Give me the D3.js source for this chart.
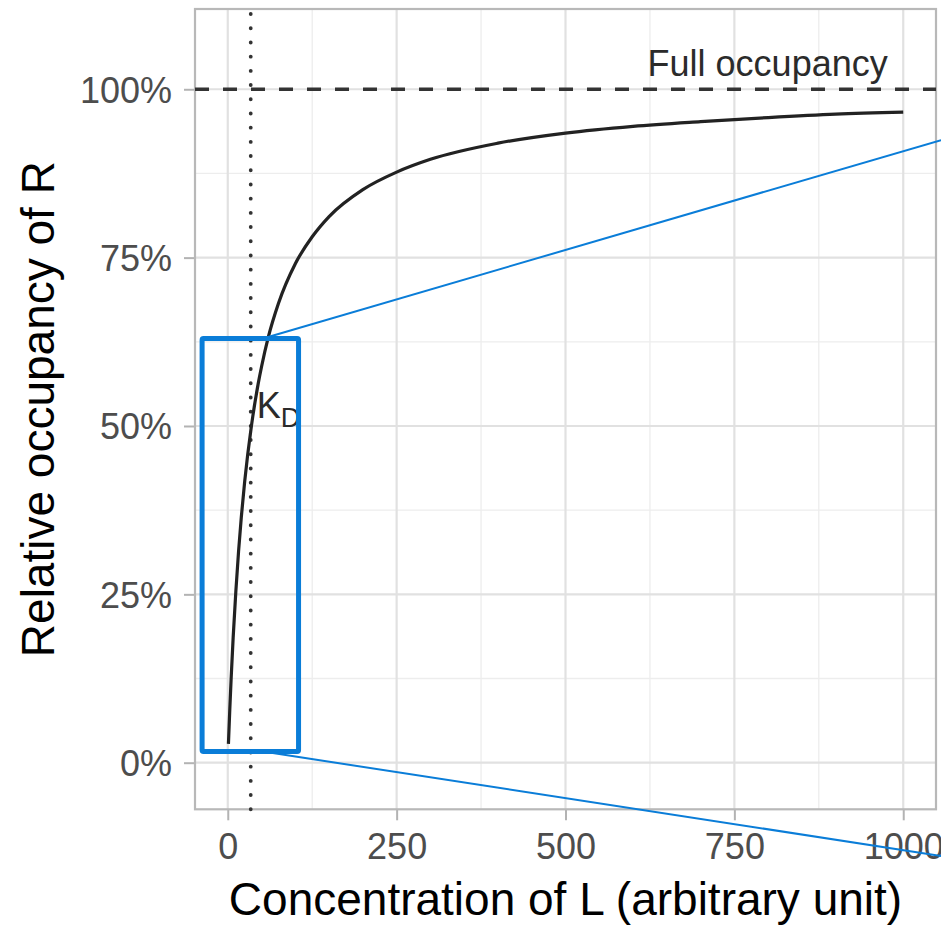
<!DOCTYPE html>
<html>
<head>
<meta charset="utf-8">
<script src="https://cdn.jsdelivr.net/npm/d3@7"></script>
<style>
  html, body { margin: 0; padding: 0; background: #fff; }
  svg { display: block; }
  text { font-family: "Liberation Sans", Arial, Helvetica, sans-serif; }
</style>
</head>
<body>
<svg id="chart" width="941" height="925"></svg>
<script>
// ---------- data ----------
const concentration = [1, 3, 5, 8, 12, 16, 20, 25, 35, 45, 50, 60, 75, 100, 125, 150, 200, 250, 300, 400, 500, 600, 700, 800, 900, 1000];
const occupancy     = [0.028, 0.079, 0.125, 0.186, 0.255, 0.314, 0.364, 0.417, 0.500, 0.5625, 0.588, 0.632, 0.682, 0.741, 0.781, 0.811, 0.851, 0.877, 0.896, 0.920, 0.935, 0.945, 0.952, 0.958, 0.963, 0.966];
const kdValue = 34;
const fullOccupancy = 1;
const xTicks = [0, 250, 500, 750, 1000];
const xMinor = [125, 375, 625, 875];
const yTicks = [0, 0.25, 0.5, 0.75, 1];
const yMinor = [0.125, 0.375, 0.625, 0.875];
const xTitle = "Concentration of L (arbitrary unit)";
const yTitle = "Relative occupancy of R";
const fullLabel = "Full occupancy";
// zoom-indicator overlay (data units)
const zoomBox = { x0: -38, x1: 104.8, y0: 0.0166, y1: 0.63 };
const zoomLines = [
  { x0: 52.2, y0: 0.63,   x1: 1056, y1: 0.9245 },
  { x0: 52.2, y0: 0.0166, x1: 1056, y1: -0.1385 }
];

// ---------- layout ----------
const panel = { left: 195, right: 936, top: 9, bottom: 809.3 };
const svg = d3.select("#chart");

const x = d3.scaleLinear().domain([-48.5, 1048.5]).range([panel.left, panel.right]);
const y = d3.scaleLinear().domain([-0.0692, 1.1192]).range([panel.bottom, panel.top]);

const g = svg.append("g");

// minor grid
g.selectAll(".xminor").data(xMinor).join("line")
  .attr("x1", d => x(d)).attr("x2", d => x(d))
  .attr("y1", panel.top).attr("y2", panel.bottom)
  .attr("stroke", "#ededed").attr("stroke-width", 1.3);
g.selectAll(".yminor").data(yMinor).join("line")
  .attr("y1", d => y(d)).attr("y2", d => y(d))
  .attr("x1", panel.left).attr("x2", panel.right)
  .attr("stroke", "#ededed").attr("stroke-width", 1.3);
// major grid
g.selectAll(".xmajor").data(xTicks).join("line")
  .attr("x1", d => x(d)).attr("x2", d => x(d))
  .attr("y1", panel.top).attr("y2", panel.bottom)
  .attr("stroke", "#e1e1e1").attr("stroke-width", 2.2);
g.selectAll(".ymajor").data(yTicks).join("line")
  .attr("y1", d => y(d)).attr("y2", d => y(d))
  .attr("x1", panel.left).attr("x2", panel.right)
  .attr("stroke", "#e1e1e1").attr("stroke-width", 2.2);

// axes (ticks + labels) via d3 axes
const xAxis = d3.axisBottom(x).tickValues(xTicks).tickSize(11).tickPadding(13).tickFormat(d3.format("d"));
const yAxis = d3.axisLeft(y).tickValues(yTicks).tickSize(11).tickPadding(12).tickFormat(d3.format(".0%"));

const gx = svg.append("g").attr("transform", `translate(0,${panel.bottom})`).call(xAxis);
const gy = svg.append("g").attr("transform", `translate(${panel.left},0)`).call(yAxis);
[gx, gy].forEach(a => {
  a.select(".domain").remove();
  a.selectAll(".tick line").attr("stroke", "#b3b3b3").attr("stroke-width", 2);
  a.selectAll(".tick text").attr("fill", "#4d4d4d").style("font-size", "36px")
    .style("font-family", '"Liberation Sans", Arial, sans-serif');
});
gx.selectAll(".tick text").attr("dy", null).attr("y", 50);
gy.selectAll(".tick text").attr("dy", "0.36em");

// panel border
svg.append("rect")
  .attr("x", panel.left).attr("y", panel.top)
  .attr("width", panel.right - panel.left).attr("height", panel.bottom - panel.top)
  .attr("fill", "none").attr("stroke", "#b8b8b8").attr("stroke-width", 2.2);

// full occupancy dashed line
svg.append("line")
  .attr("x1", x.range()[0]).attr("x2", x.range()[1])
  .attr("y1", y(fullOccupancy)).attr("y2", y(fullOccupancy))
  .attr("stroke", "#333").attr("stroke-width", 3.6)
  .attr("stroke-dasharray", "14 14");

// Kd dotted line
svg.append("line")
  .attr("x1", x(kdValue)).attr("x2", x(kdValue))
  .attr("y1", panel.bottom).attr("y2", panel.top)
  .attr("stroke", "#333").attr("stroke-width", 3.8)
  .attr("stroke-linecap", "round")
  .attr("stroke-dasharray", "0.1 14.1");

// binding curve
const pts = concentration.map((c, i) => [c, occupancy[i]]);
svg.append("path")
  .datum(pts)
  .attr("d", d3.line().x(d => x(d[0])).y(d => y(d[1])).curve(d3.curveMonotoneX))
  .attr("fill", "none").attr("stroke", "#222").attr("stroke-width", 3.2);

// labels
svg.append("text")
  .attr("x", x(977)).attr("y", y(1.02))
  .attr("text-anchor", "end")
  .attr("fill", "#2b2b2b").style("font-size", "36px")
  .text(fullLabel);

const kd = svg.append("text")
  .attr("x", x(43)).attr("y", y(0.512))
  .attr("fill", "#2b2b2b").style("font-size", "36px");
kd.append("tspan").text("K");
kd.append("tspan").attr("dy", 9).style("font-size", "27px").text("D");

// axis titles
svg.append("text")
  .attr("x", (panel.left + panel.right) / 2).attr("y", 914.5)
  .attr("text-anchor", "middle").attr("fill", "#000")
  .style("font-size", "46px").text(xTitle);
svg.append("text")
  .attr("transform", `translate(54,${(panel.top + panel.bottom) / 2}) rotate(-90)`)
  .attr("text-anchor", "middle").attr("fill", "#000")
  .style("font-size", "46px").text(yTitle);

// zoom indicator overlay
const blue = "#0a7dd8";
svg.append("rect")
  .attr("x", x(zoomBox.x0)).attr("y", y(zoomBox.y1))
  .attr("width", x(zoomBox.x1) - x(zoomBox.x0))
  .attr("height", y(zoomBox.y0) - y(zoomBox.y1))
  .attr("rx", 1.5)
  .attr("fill", "none").attr("stroke", blue).attr("stroke-width", 5);
svg.selectAll(".zl").data(zoomLines).join("line")
  .attr("x1", d => x(d.x0)).attr("y1", d => y(d.y0))
  .attr("x2", d => x(d.x1)).attr("y2", d => y(d.y1))
  .attr("stroke", blue).attr("stroke-width", 2);
</script>
</body>
</html>
